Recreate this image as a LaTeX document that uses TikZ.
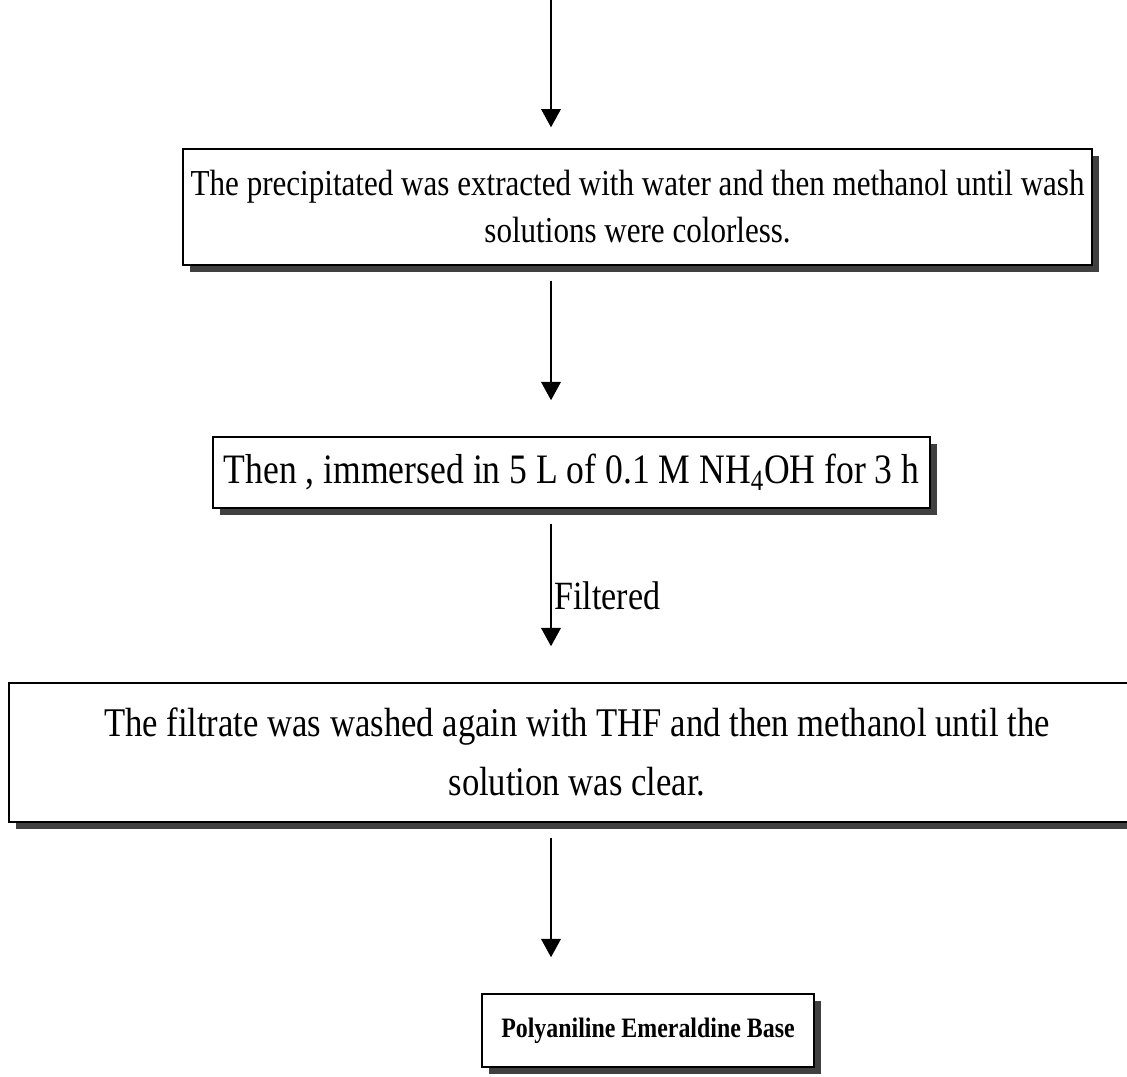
\documentclass[tikz,border=0pt]{standalone}
\usepackage{fontspec}
\setmainfont{Liberation Serif}[FakeStretch=0.85]
\usetikzlibrary{arrows.meta,shadows}

\begin{document}
\begin{tikzpicture}[line width=1pt,
  stepbox/.style={draw=black, fill=white, align=center, inner sep=0pt,
    drop shadow={shadow xshift=5pt, shadow yshift=-5pt, fill=black!75, opacity=1}},
  arr/.style={-{Triangle[width=14pt,length=13pt]}, shorten <=0.375cm, shorten >=0.9cm}]
\useasboundingbox (0,0) rectangle (28.175,-26.9);
\clip (0,0) rectangle (28.175,-26.9);
% ---- the four steps
\coordinate (top) at (13.775,0);
\node[stepbox, minimum width=22.725cm, minimum height=2.9cm, font=\fontsize{26}{33.4}\selectfont] (wash) at (15.94,-5.175)
  {The precipitated was extracted with water and then methanol until wash\\ solutions were colorless.};
\node[stepbox, minimum width=17.925cm, minimum height=1.775cm, font=\fontsize{29.8}{34}\selectfont] (base) at (14.29,-11.81)
  {Then , immersed in 5 L of 0.1 M NH\textsubscript{4}OH for 3 h};
\node[stepbox, minimum width=28.4cm, minimum height=3.475cm, font=\fontsize{29}{42}\selectfont] (thf) at (14.425,-18.81)
  {The filtrate was washed again with THF and then methanol until the\\ solution was clear.};
\node[stepbox, minimum width=8.3cm, minimum height=1.825cm, font=\fontsize{20}{25}\selectfont\bfseries] (peb) at (16.2,-25.76)
  {Polyaniline Emeraldine Base};
% ---- arrows
\draw[arr, shorten <=0pt, shorten >=0.525cm] (top) -- (top |- wash.north);
\draw[arr] (top |- wash.south) -- (top |- base.north);
\draw[arr] (top |- base.south) -- node[anchor=west, inner sep=2pt, font=\fontsize{28.5}{30}\selectfont] (filt) {Filtered} (top |- thf.north);
\draw[arr] (top |- thf.south) -- (top |- peb.north);
\end{tikzpicture}
\end{document}
